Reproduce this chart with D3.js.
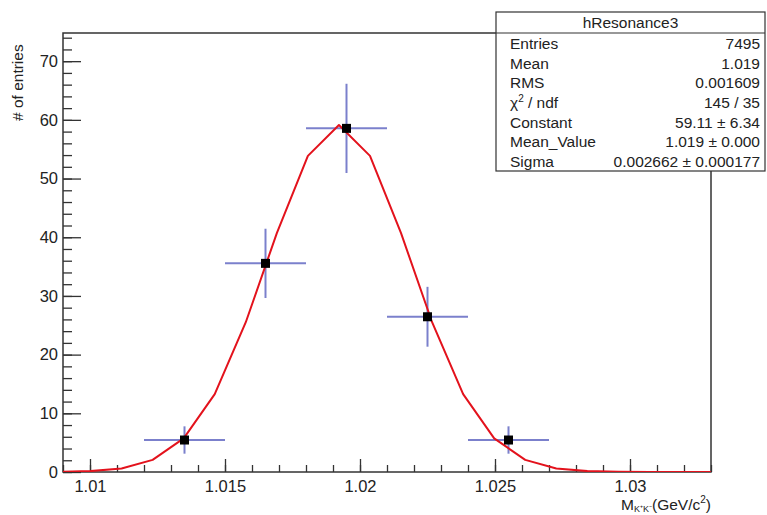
<!DOCTYPE html>
<html><head><meta charset="utf-8">
<script src="https://cdn.jsdelivr.net/npm/d3@7"></script>
<style>body{margin:0;background:#fff}svg{display:block}text{font-family:"Liberation Sans",Arial,sans-serif}</style>
</head><body>
<script>
// Data
const binCenters = [1.0135, 1.0165, 1.0195, 1.0225, 1.0255];
const binHalfWidth = [0.0015, 0.0015, 0.0015, 0.0015, 0.0015];
const entries = [5.45, 35.55, 58.55, 26.45, 5.45];
const entryErrors = [2.33, 5.9, 7.6, 5.1, 2.33];
// fit curve vertices (as drawn)
const fitX = [1.00887, 1.01002, 1.01117, 1.01232, 1.01347, 1.01462, 1.01577, 1.01692, 1.01807, 1.01922,
              1.02037, 1.02152, 1.02267, 1.02382, 1.02497, 1.02612, 1.02727, 1.02842, 1.02957, 1.03072, 1.03187, 1.03302, 1.03417];
const fitY = [0.03, 0.15, 0.61, 2.06, 5.73, 13.28, 25.52, 40.70, 53.86, 59.11,
              53.86, 40.70, 25.52, 13.28, 5.73, 2.06, 0.61, 0.15, 0.03, 0.0, 0.0, 0.0, 0.0];
const xTicks = [1.01, 1.015, 1.02, 1.025, 1.03];
const yTicks = [0, 10, 20, 30, 40, 50, 60, 70];
const statsTitle = "hResonance3";
const statsLabels = ["Entries", "Mean", "RMS", "χ2 / ndf", "Constant", "Mean_Value", "Sigma"];
const statsValues = ["7495", "1.019", "0.001609", "145 / 35", "59.11\u00a0±\u00a06.34", "1.019\u00a0±\u00a00.000", "0.002662\u00a0±\u00a00.000177"];

const W = 767, H = 515;
const L = 63, R = 711, T = 33, B = 472;
const svg = d3.select("body").append("svg").attr("width", W).attr("height", H);

const x = d3.scaleLinear().domain([1.009, 1.033]).range([L, R]);
const y = d3.scaleLinear().domain([0, 74.8]).range([B, T]);

svg.append("defs").append("clipPath").attr("id", "clip")
  .append("rect").attr("x", L).attr("y", T).attr("width", R - L).attr("height", B - T);

const axisColor = "#333";
const FT = 16.5;

// x axis: inward ticks
const xMinor = d3.range(1.009, 1.0335, 0.001).map(v => +v.toFixed(4));
const gx = svg.append("g").attr("transform", `translate(0,${B})`);
gx.call(d3.axisTop(x).tickValues(xMinor).tickSize(7).tickFormat(""));
gx.append("g").call(d3.axisTop(x).tickValues(xTicks).tickSize(13).tickFormat(""));
gx.selectAll("path.domain").remove();
gx.selectAll("line").attr("stroke", axisColor).attr("stroke-width", 1.3);
svg.append("g").attr("transform", `translate(0,${B})`)
  .call(d3.axisBottom(x).tickValues(xTicks).tickSize(0).tickPadding(8).tickFormat(d3.format("")))
  .call(g => g.select(".domain").remove())
  .selectAll("text").attr("font-size", FT).attr("fill", "#222")
  .attr("font-family", "Liberation Sans, Arial, sans-serif");

// y axis
const yMinor = d3.range(0, 75, 2);
const gy = svg.append("g").attr("transform", `translate(${L},0)`);
gy.call(d3.axisRight(y).tickValues(yMinor).tickSize(9).tickFormat(""));
gy.append("g").call(d3.axisRight(y).tickValues(yTicks).tickSize(18).tickFormat(""));
gy.selectAll("path.domain").remove();
gy.selectAll("line").attr("stroke", axisColor).attr("stroke-width", 1.3);
svg.append("g").attr("transform", `translate(${L},0)`)
  .call(d3.axisLeft(y).tickValues(yTicks).tickSize(0).tickPadding(5).tickFormat(d3.format("d")))
  .call(g => g.select(".domain").remove())
  .selectAll("text").attr("font-size", FT).attr("fill", "#222")
  .attr("font-family", "Liberation Sans, Arial, sans-serif");

// frame
svg.append("rect").attr("x", L).attr("y", T).attr("width", R - L).attr("height", B - T)
  .attr("fill", "none").attr("stroke", axisColor).attr("stroke-width", 1.5);

// data
const pts = binCenters.map((c, i) => ({c, hw: binHalfWidth[i], v: entries[i], e: entryErrors[i]}));
const eb = svg.append("g").attr("clip-path", "url(#clip)").attr("stroke", "#7b80cc").attr("stroke-width", 2);
eb.selectAll(".h").data(pts).join("line")
  .attr("x1", d => x(d.c - d.hw)).attr("x2", d => x(d.c + d.hw))
  .attr("y1", d => y(d.v)).attr("y2", d => y(d.v));
eb.selectAll(".v").data(pts).join("line").attr("class", "v")
  .attr("x1", d => x(d.c)).attr("x2", d => x(d.c))
  .attr("y1", d => y(d.v - d.e)).attr("y2", d => y(d.v + d.e));

// fit curve
const fit = fitX.map((v, i) => [v, fitY[i]]);
svg.append("path").attr("clip-path", "url(#clip)")
  .datum(fit).attr("fill", "none").attr("stroke", "#e3121c").attr("stroke-width", 2)
  .attr("stroke-linejoin", "round")
  .attr("d", d3.line().x(d => x(d[0])).y(d => y(d[1])));

// markers
svg.append("g").selectAll("rect").data(pts).join("rect")
  .attr("x", d => x(d.c) - 4.5).attr("y", d => y(d.v) - 4.5)
  .attr("width", 9).attr("height", 9).attr("fill", "#000");

// axis titles
svg.append("text").attr("transform", "translate(23,121) rotate(-90)")
  .attr("font-size", 15.5).attr("fill", "#222").attr("text-anchor", "start").text("# of entries");

const xt = svg.append("text").attr("x", R).attr("y", 510).attr("text-anchor", "end")
  .attr("font-size", 15.5).attr("fill", "#222");
xt.append("tspan").text("M");
xt.append("tspan").attr("font-size", 9).attr("dy", 2).text("K⁺K⁻");
xt.append("tspan").attr("dy", -2).text("(GeV/c");
xt.append("tspan").attr("font-size", 10).attr("dy", -7).text("2");
xt.append("tspan").attr("dy", 7).text(")");

// stats box
const bx = 496, by = 12, bw = 269, bh = 159;
const FS = 15.5;
const sb = svg.append("g");
sb.append("rect").attr("x", bx).attr("y", by).attr("width", bw).attr("height", bh)
  .attr("fill", "#fff").attr("stroke", "#333").attr("stroke-width", 1.2);
sb.append("line").attr("x1", bx).attr("x2", bx + bw).attr("y1", 33).attr("y2", 33)
  .attr("stroke", "#333").attr("stroke-width", 1.2);
sb.append("text").attr("x", bx + bw / 2).attr("y", 28).attr("text-anchor", "middle")
  .attr("font-size", FS).attr("fill", "#222").text(statsTitle);
const rowY = d3.scaleLinear().domain([0, 6]).range([49, 167]);
statsLabels.forEach((lab, i) => {
  const t = sb.append("text").attr("x", bx + 14).attr("y", rowY(i)).attr("font-size", FS).attr("fill", "#222");
  if (lab.startsWith("χ2")) {
    t.append("tspan").text("χ");
    t.append("tspan").attr("font-size", 10).attr("dy", -6).text("2");
    t.append("tspan").attr("dy", 6).text(" / ndf");
  } else t.text(lab);
  sb.append("text").attr("x", bx + bw - 5).attr("y", rowY(i)).attr("text-anchor", "end")
    .attr("font-size", FS).attr("fill", "#222").text(statsValues[i]);
});
</script>
</body></html>
